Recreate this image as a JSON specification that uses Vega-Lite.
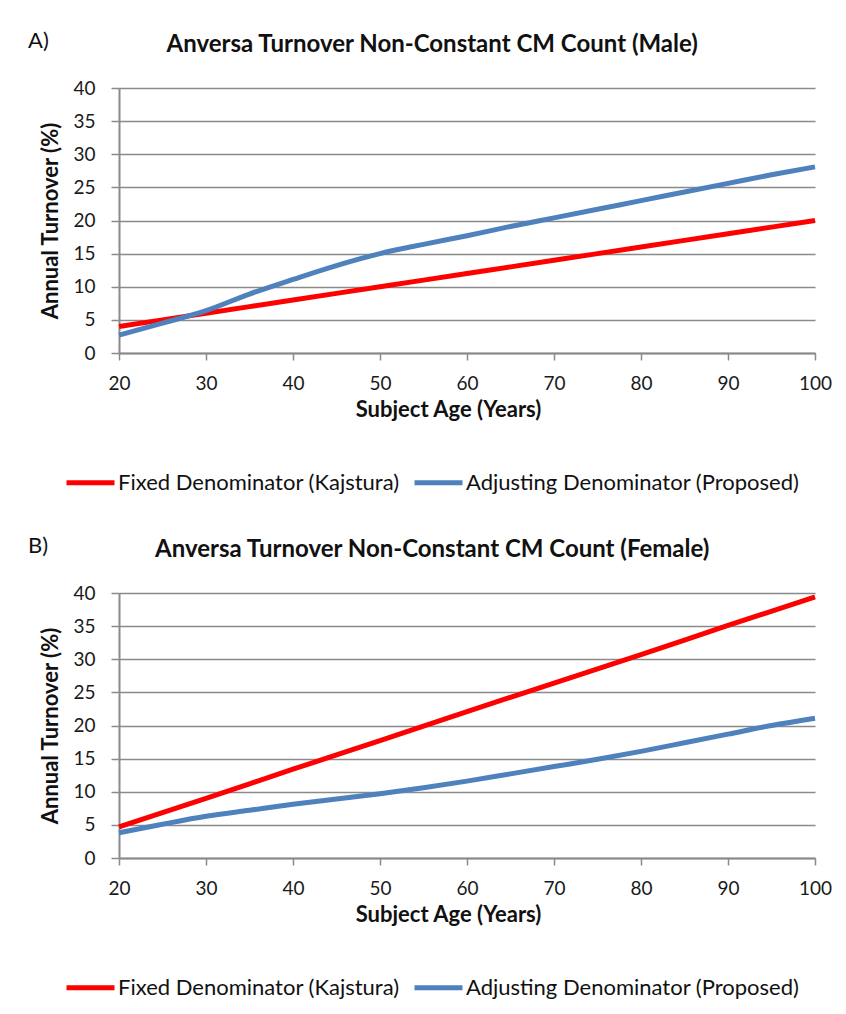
{
  "$schema": "https://vega.github.io/schema/vega-lite/v6.json",
  "background": "white",
  "autosize": "pad",
  "padding": {"left": 27, "top": 30, "right": 12, "bottom": 6},
  "datasets": {
    "curves": [
      {"panel": "A", "series": "Fixed Denominator (Kajstura)", "age": 20, "turnover": 4.0},
      {"panel": "A", "series": "Fixed Denominator (Kajstura)", "age": 30, "turnover": 6.0},
      {"panel": "A", "series": "Fixed Denominator (Kajstura)", "age": 40, "turnover": 8.0},
      {"panel": "A", "series": "Fixed Denominator (Kajstura)", "age": 50, "turnover": 10.0},
      {"panel": "A", "series": "Fixed Denominator (Kajstura)", "age": 60, "turnover": 12.0},
      {"panel": "A", "series": "Fixed Denominator (Kajstura)", "age": 70, "turnover": 14.0},
      {"panel": "A", "series": "Fixed Denominator (Kajstura)", "age": 80, "turnover": 16.0},
      {"panel": "A", "series": "Fixed Denominator (Kajstura)", "age": 90, "turnover": 18.0},
      {"panel": "A", "series": "Fixed Denominator (Kajstura)", "age": 100, "turnover": 20.0},
      {"panel": "A", "series": "Adjusting Denominator (Proposed)", "age": 20, "turnover": 2.7},
      {"panel": "A", "series": "Adjusting Denominator (Proposed)", "age": 25, "turnover": 4.5},
      {"panel": "A", "series": "Adjusting Denominator (Proposed)", "age": 30, "turnover": 6.4},
      {"panel": "A", "series": "Adjusting Denominator (Proposed)", "age": 35, "turnover": 8.9},
      {"panel": "A", "series": "Adjusting Denominator (Proposed)", "age": 40, "turnover": 11.1},
      {"panel": "A", "series": "Adjusting Denominator (Proposed)", "age": 45, "turnover": 13.2},
      {"panel": "A", "series": "Adjusting Denominator (Proposed)", "age": 50, "turnover": 15.0},
      {"panel": "A", "series": "Adjusting Denominator (Proposed)", "age": 55, "turnover": 16.4},
      {"panel": "A", "series": "Adjusting Denominator (Proposed)", "age": 60, "turnover": 17.7},
      {"panel": "A", "series": "Adjusting Denominator (Proposed)", "age": 65, "turnover": 19.1},
      {"panel": "A", "series": "Adjusting Denominator (Proposed)", "age": 70, "turnover": 20.4},
      {"panel": "A", "series": "Adjusting Denominator (Proposed)", "age": 75, "turnover": 21.7},
      {"panel": "A", "series": "Adjusting Denominator (Proposed)", "age": 80, "turnover": 23.0},
      {"panel": "A", "series": "Adjusting Denominator (Proposed)", "age": 85, "turnover": 24.3},
      {"panel": "A", "series": "Adjusting Denominator (Proposed)", "age": 90, "turnover": 25.6},
      {"panel": "A", "series": "Adjusting Denominator (Proposed)", "age": 95, "turnover": 26.9},
      {"panel": "A", "series": "Adjusting Denominator (Proposed)", "age": 100, "turnover": 28.1},
      {"panel": "B", "series": "Fixed Denominator (Kajstura)", "age": 20, "turnover": 4.7},
      {"panel": "B", "series": "Fixed Denominator (Kajstura)", "age": 30, "turnover": 9.0},
      {"panel": "B", "series": "Fixed Denominator (Kajstura)", "age": 40, "turnover": 13.4},
      {"panel": "B", "series": "Fixed Denominator (Kajstura)", "age": 50, "turnover": 17.7},
      {"panel": "B", "series": "Fixed Denominator (Kajstura)", "age": 60, "turnover": 22.1},
      {"panel": "B", "series": "Fixed Denominator (Kajstura)", "age": 70, "turnover": 26.4},
      {"panel": "B", "series": "Fixed Denominator (Kajstura)", "age": 80, "turnover": 30.7},
      {"panel": "B", "series": "Fixed Denominator (Kajstura)", "age": 90, "turnover": 35.1},
      {"panel": "B", "series": "Fixed Denominator (Kajstura)", "age": 100, "turnover": 39.4},
      {"panel": "B", "series": "Adjusting Denominator (Proposed)", "age": 20, "turnover": 3.8},
      {"panel": "B", "series": "Adjusting Denominator (Proposed)", "age": 25, "turnover": 5.1},
      {"panel": "B", "series": "Adjusting Denominator (Proposed)", "age": 30, "turnover": 6.3},
      {"panel": "B", "series": "Adjusting Denominator (Proposed)", "age": 35, "turnover": 7.2},
      {"panel": "B", "series": "Adjusting Denominator (Proposed)", "age": 40, "turnover": 8.1},
      {"panel": "B", "series": "Adjusting Denominator (Proposed)", "age": 45, "turnover": 8.9},
      {"panel": "B", "series": "Adjusting Denominator (Proposed)", "age": 50, "turnover": 9.7},
      {"panel": "B", "series": "Adjusting Denominator (Proposed)", "age": 55, "turnover": 10.6},
      {"panel": "B", "series": "Adjusting Denominator (Proposed)", "age": 60, "turnover": 11.6},
      {"panel": "B", "series": "Adjusting Denominator (Proposed)", "age": 65, "turnover": 12.7},
      {"panel": "B", "series": "Adjusting Denominator (Proposed)", "age": 70, "turnover": 13.8},
      {"panel": "B", "series": "Adjusting Denominator (Proposed)", "age": 75, "turnover": 14.9},
      {"panel": "B", "series": "Adjusting Denominator (Proposed)", "age": 80, "turnover": 16.1},
      {"panel": "B", "series": "Adjusting Denominator (Proposed)", "age": 85, "turnover": 17.4},
      {"panel": "B", "series": "Adjusting Denominator (Proposed)", "age": 90, "turnover": 18.7},
      {"panel": "B", "series": "Adjusting Denominator (Proposed)", "age": 95, "turnover": 20.0},
      {"panel": "B", "series": "Adjusting Denominator (Proposed)", "age": 100, "turnover": 21.1}
    ],
    "tags": [
      {"panel": "A", "label": "A)", "title": "Anversa Turnover Non-Constant CM Count (Male)"},
      {"panel": "B", "label": "B)", "title": "Anversa Turnover Non-Constant CM Count (Female)"}
    ]
  },
  "spacing": 41,
  "resolve": {"scale": {"color": "independent"}, "legend": {"color": "independent"}},
  "vconcat": [
    {
      "width": 696,
      "height": 265,
      "layer": [
        {
          "data": {"name": "curves"},
          "transform": [{"filter": "datum.panel === 'A'"}],
          "mark": {"type": "line", "strokeWidth": 5, "interpolate": "monotone"},
          "encoding": {
            "x": {"field": "age", "type": "quantitative", "scale": {"domain": [20, 100], "nice": false, "zero": false}, "axis": {"title": "Subject Age (Years)", "values": [20, 30, 40, 50, 60, 70, 80, 90, 100]}},
            "y": {"field": "turnover", "type": "quantitative", "scale": {"domain": [0, 40], "nice": false}, "axis": {"title": "Annual Turnover (%)", "values": [0, 5, 10, 15, 20, 25, 30, 35, 40], "tickCount": 9, "labelOverlap": false}},
            "color": {"field": "series", "type": "nominal", "sort": null, "scale": {"domain": ["Fixed Denominator (Kajstura)", "Adjusting Denominator (Proposed)"], "range": ["#ff0000", "#4f81bd"]}}
          }
        },
        {
          "data": {"name": "tags"},
          "transform": [{"filter": "datum.panel === 'A'"}],
          "mark": {"type": "text", "align": "left", "baseline": "alphabetic", "fontSize": 22, "font": "Lato", "color": "#111111"},
          "encoding": {
            "x": {"datum": 9.54, "type": "quantitative", "scale": {"domain": [20, 100], "nice": false, "zero": false}, "axis": {"title": "Subject Age (Years)", "values": [20, 30, 40, 50, 60, 70, 80, 90, 100]}},
            "y": {"datum": 46.0, "type": "quantitative", "scale": {"domain": [0, 40], "nice": false}, "axis": {"title": "Annual Turnover (%)", "values": [0, 5, 10, 15, 20, 25, 30, 35, 40], "tickCount": 9, "labelOverlap": false}},
            "text": {"field": "label"}
          }
        },
        {
          "data": {"name": "tags"},
          "transform": [{"filter": "datum.panel === 'A'"}],
          "mark": {"type": "text", "align": "center", "baseline": "alphabetic", "fontSize": 24, "fontWeight": "bold", "font": "Lato", "color": "#111111"},
          "encoding": {
            "x": {"datum": 56.0, "type": "quantitative", "scale": {"domain": [20, 100], "nice": false, "zero": false}, "axis": {"title": "Subject Age (Years)", "values": [20, 30, 40, 50, 60, 70, 80, 90, 100]}},
            "y": {"datum": 45.5, "type": "quantitative", "scale": {"domain": [0, 40], "nice": false}, "axis": {"title": "Annual Turnover (%)", "values": [0, 5, 10, 15, 20, 25, 30, 35, 40], "tickCount": 9, "labelOverlap": false}},
            "text": {"field": "title"}
          }
        }
      ]
    },
    {
      "width": 696,
      "height": 265,
      "layer": [
        {
          "data": {"name": "curves"},
          "transform": [{"filter": "datum.panel === 'B'"}],
          "mark": {"type": "line", "strokeWidth": 5, "interpolate": "monotone"},
          "encoding": {
            "x": {"field": "age", "type": "quantitative", "scale": {"domain": [20, 100], "nice": false, "zero": false}, "axis": {"title": "Subject Age (Years)", "values": [20, 30, 40, 50, 60, 70, 80, 90, 100]}},
            "y": {"field": "turnover", "type": "quantitative", "scale": {"domain": [0, 40], "nice": false}, "axis": {"title": "Annual Turnover (%)", "values": [0, 5, 10, 15, 20, 25, 30, 35, 40], "tickCount": 9, "labelOverlap": false}},
            "color": {"field": "series", "type": "nominal", "sort": null, "scale": {"domain": ["Fixed Denominator (Kajstura)", "Adjusting Denominator (Proposed)"], "range": ["#ff0000", "#4f81bd"]}}
          }
        },
        {
          "data": {"name": "tags"},
          "transform": [{"filter": "datum.panel === 'B'"}],
          "mark": {"type": "text", "align": "left", "baseline": "alphabetic", "fontSize": 22, "font": "Lato", "color": "#111111"},
          "encoding": {
            "x": {"datum": 9.54, "type": "quantitative", "scale": {"domain": [20, 100], "nice": false, "zero": false}, "axis": {"title": "Subject Age (Years)", "values": [20, 30, 40, 50, 60, 70, 80, 90, 100]}},
            "y": {"datum": 46.0, "type": "quantitative", "scale": {"domain": [0, 40], "nice": false}, "axis": {"title": "Annual Turnover (%)", "values": [0, 5, 10, 15, 20, 25, 30, 35, 40], "tickCount": 9, "labelOverlap": false}},
            "text": {"field": "label"}
          }
        },
        {
          "data": {"name": "tags"},
          "transform": [{"filter": "datum.panel === 'B'"}],
          "mark": {"type": "text", "align": "center", "baseline": "alphabetic", "fontSize": 24, "fontWeight": "bold", "font": "Lato", "color": "#111111"},
          "encoding": {
            "x": {"datum": 56.0, "type": "quantitative", "scale": {"domain": [20, 100], "nice": false, "zero": false}, "axis": {"title": "Subject Age (Years)", "values": [20, 30, 40, 50, 60, 70, 80, 90, 100]}},
            "y": {"datum": 45.5, "type": "quantitative", "scale": {"domain": [0, 40], "nice": false}, "axis": {"title": "Annual Turnover (%)", "values": [0, 5, 10, 15, 20, 25, 30, 35, 40], "tickCount": 9, "labelOverlap": false}},
            "text": {"field": "title"}
          }
        }
      ]
    }
  ],
  "config": {
    "view": {"stroke": null},
    "axis": {
      "domainColor": "#8a8a8a", "domainWidth": 2,
      "tickColor": "#8a8a8a", "tickWidth": 1.5,
      "gridColor": "#8a8a8a", "gridWidth": 1.5, "gridOpacity": 1,
      "labelFont": "Lato", "labelFontSize": 19, "labelColor": "#1a1a1a",
      "titleFont": "Lato", "titleFontSize": 22, "titleFontWeight": "bold", "titleColor": "#111111"
    },
    "axisX": {"grid": false, "tickSize": 7, "labelPadding": 14, "titlePadding": 6, "labelFlush": false, "titleX": 329},
    "axisY": {"grid": true, "tickSize": 8, "labelPadding": 16, "titlePadding": 10, "labelFlush": false},
    "legend": {
      "orient": "none", "legendX": -55, "legendY": 368, "direction": "horizontal", "title": null,
      "symbolType": "stroke", "symbolSize": 2304, "symbolStrokeWidth": 5,
      "labelFont": "Lato", "labelFontSize": 22, "labelColor": "#111111", "labelOffset": 1, "labelLimit": 0,
      "columnPadding": 4
    }
  }
}
